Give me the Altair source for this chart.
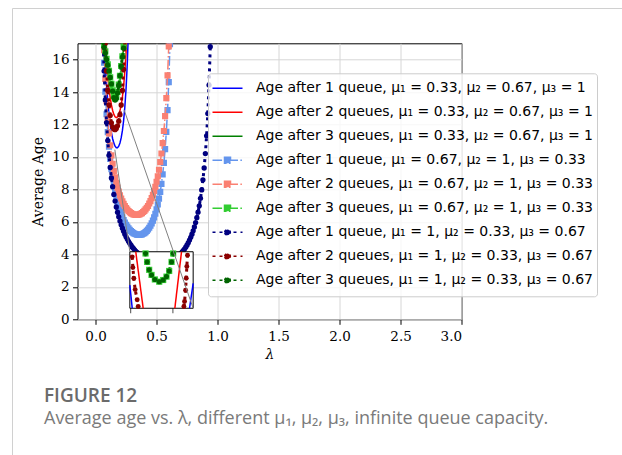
import altair as alt
import pandas as pd

# ---------------- data ----------------
LAMBDA = [0.05, 0.06, 0.07, 0.08, 0.09, 0.10, 0.11, 0.12, 0.13, 0.14, 0.15,
          0.16, 0.17, 0.18, 0.19, 0.20, 0.21, 0.22, 0.23, 0.24, 0.25,
          0.26, 0.27, 0.28, 0.29, 0.30, 0.31, 0.32, 0.33, 0.34, 0.35,
          0.36, 0.37, 0.38, 0.39, 0.40, 0.41, 0.42, 0.43, 0.44, 0.45,
          0.46, 0.47, 0.48, 0.49, 0.50, 0.51, 0.52, 0.53, 0.54, 0.55,
          0.56, 0.57, 0.58, 0.59, 0.60, 0.61, 0.62, 0.63, 0.64, 0.65,
          0.66, 0.67, 0.68, 0.69, 0.70, 0.71, 0.72, 0.73, 0.74, 0.75,
          0.76, 0.77, 0.78, 0.79, 0.80, 0.81, 0.82, 0.83, 0.84, 0.85,
          0.86, 0.87, 0.88, 0.89, 0.90, 0.91, 0.92, 0.93, 0.94, 0.95]

SERIES = [
    "Age after 1 queue, μ₁ = 0.33, μ₂ = 0.67, μ₃ = 1",
    "Age after 2 queues, μ₁ = 0.33, μ₂ = 0.67, μ₃ = 1",
    "Age after 3 queues, μ₁ = 0.33, μ₂ = 0.67, μ₃ = 1",
    "Age after 1 queue, μ₁ = 0.67, μ₂ = 1, μ₃ = 0.33",
    "Age after 2 queues, μ₁ = 0.67, μ₂ = 1, μ₃ = 0.33",
    "Age after 3 queues, μ₁ = 0.67, μ₂ = 1, μ₃ = 0.33",
    "Age after 1 queue, μ₁ = 1, μ₂ = 0.33, μ₃ = 0.67",
    "Age after 2 queues, μ₁ = 1, μ₂ = 0.33, μ₃ = 0.67",
    "Age after 3 queues, μ₁ = 1, μ₂ = 0.33, μ₃ = 0.67",
]
COLORS = ["#0000ff", "#ff0000", "#008000",
          "#6495ed", "#fa8072", "#32cd32",
          "#000080", "#8b0000", "#006400"]

# first lambda of each series
STARTS = [0.06, 0.07, 0.07, 0.06, 0.06, 0.06, 0.06, 0.07, 0.06]

AGE_A1 = [19.82, 17.49, 15.77, 14.45, 13.43, 12.63, 11.99, 11.50, 11.12, 10.85,
          10.66, 10.57, 10.57, 10.66, 10.86, 11.17, 11.62, 12.24, 13.08, 14.21,
          15.75, 17.89]
AGE_A2 = [19.01, 17.32, 16.02, 15.03, 14.27, 13.66, 13.20, 12.86, 12.62, 12.47,
          12.42, 12.46, 12.59, 12.84, 13.19, 13.69, 14.36, 15.26, 16.44, 18.04]
AGE_A3 = [17.3, 16.7, 16.1, 15.55, 15.05, 14.6, 14.2, 13.85, 13.6, 13.5,
          13.55, 13.8, 14.2, 14.75, 15.35, 16.0, 16.7, 17.4]
AGE_B1 = [18.17, 15.80, 14.02, 12.63, 11.53, 10.63, 9.88, 9.25, 8.72, 8.26,
          7.85, 7.50, 7.19, 6.92, 6.68, 6.47, 6.28, 6.11, 5.96, 5.82,
          5.71, 5.60, 5.51, 5.43, 5.37, 5.31, 5.27, 5.24, 5.21, 5.20,
          5.20, 5.21, 5.23, 5.27, 5.31, 5.37, 5.45, 5.53, 5.64, 5.76,
          5.91, 6.08, 6.28, 6.50, 6.77, 7.07, 7.43, 7.85, 8.34, 8.93,
          9.63, 10.48, 11.54, 12.88, 14.61, 16.94, 20.24]
AGE_B2 = [18.93, 16.58, 14.81, 13.43, 12.34, 11.45, 10.72, 10.10, 9.58, 9.14,
          8.74, 8.41, 8.11, 7.86, 7.63, 7.44, 7.26, 7.11, 6.98, 6.85,
          6.76, 6.67, 6.60, 6.54, 6.50, 6.46, 6.44, 6.43, 6.43, 6.44,
          6.46, 6.50, 6.54, 6.61, 6.68, 6.77, 6.87, 6.98, 7.13, 7.28,
          7.46, 7.67, 7.90, 8.16, 8.47, 8.81, 9.21, 9.68, 10.21, 10.85,
          11.60, 12.51, 13.62, 15.02, 16.81, 19.20]
AGE_B3 = [17.3, 16.9, 16.5, 16.05, 15.7, 15.3, 14.9, 14.5, 14.1, 13.75,
          13.6, 13.7, 14.0, 14.45, 15.0, 15.6, 16.2, 16.8, 17.4]
AGE_C1 = [17.67, 15.29, 13.51, 12.12, 11.01, 10.10, 9.35, 8.71, 8.17, 7.69,
          7.28, 6.92, 6.60, 6.31, 6.05, 5.82, 5.61, 5.42, 5.24, 5.08,
          4.94, 4.80, 4.68, 4.57, 4.46, 4.37, 4.28, 4.19, 4.12, 4.05,
          3.98, 3.92, 3.86, 3.81, 3.77, 3.72, 3.69, 3.65, 3.62, 3.59,
          3.57, 3.54, 3.53, 3.51, 3.50, 3.49, 3.49, 3.48, 3.49, 3.49,
          3.50, 3.51, 3.53, 3.54, 3.57, 3.59, 3.62, 3.66, 3.70, 3.75,
          3.80, 3.85, 3.92, 3.98, 4.06, 4.15, 4.24, 4.34, 4.46, 4.58,
          4.72, 4.88, 5.05, 5.24, 5.45, 5.69, 5.96, 6.26, 6.60, 6.99,
          7.45, 7.97, 8.59, 9.32, 10.21, 11.30, 12.67, 14.43, 16.79, 20.10]
AGE_C2 = [19.2, 17.0, 15.3, 14.1, 13.2, 12.55, 12.1, 11.85, 11.72, 11.68,
          11.75, 11.92, 12.2, 12.6, 13.2, 14.1, 15.4, 17.3]
AGE_C3 = [17.1, 16.75, 16.4, 16.0, 15.65, 15.3, 14.9, 14.5, 14.05, 13.65,
          13.5, 13.6, 13.95, 14.4, 15.0, 15.6, 16.15, 16.7, 17.2]
AGES = [AGE_A1, AGE_A2, AGE_A3, AGE_B1, AGE_B2, AGE_B3, AGE_C1, AGE_C2, AGE_C3]

# inset (zoomed view) traces, in the inset's own units
INSET_BLUE_L_X = [0.1490, 0.1518]
INSET_BLUE_L_Y = [13.41, 13.00]
INSET_BLUE_R_X = [0.2197, 0.2240]
INSET_BLUE_R_Y = [13.00, 13.44]
INSET_RED_L_X = [0.1560, 0.1648]
INSET_RED_L_Y = [14.00, 13.00]
INSET_RED_R_X = [0.2023, 0.2102]
INSET_RED_R_Y = [13.00, 14.00]
INSET_DRED_L_X = [0.1518, 0.1526, 0.1537, 0.1553, 0.1577, 0.1589]
INSET_DRED_L_Y = [13.91, 13.72, 13.53, 13.33, 13.15, 13.03]
INSET_DRED_R_X = [0.2130, 0.2138, 0.2150, 0.2158, 0.2165, 0.2173]
INSET_DRED_R_Y = [13.03, 13.12, 13.32, 13.53, 13.74, 13.94]
INSET_GREEN_X = [0.1676, 0.1695, 0.1719, 0.1747, 0.1786, 0.1838, 0.1885,
                 0.1924, 0.1956, 0.1984, 0.2003]
INSET_GREEN_Y = [13.97, 13.82, 13.68, 13.59, 13.51, 13.47, 13.50,
                 13.56, 13.66, 13.82, 13.97]
INSET_TICKS = [0.15, 0.20]

CAPTION_TITLE = "FIGURE 12"
CAPTION_TEXT = "Average age vs. λ, different μ₁, μ₂, μ₃, infinite queue capacity."

# ---------------- layout / style constants ----------------
XMIN, XMAX = -0.148, 3.0
YMIN, YMAX = 0.0, 17.0
IXA, IXB, IYA, IYB = 0.149, 0.224, 13.0, 14.0       # inset window (local units)
IX0, IX1, IY0, IY1 = 0.281, 0.800, 0.68, 4.16       # inset placement (main units)
ZOOM_BL = (0.158, 10.45)
ZOOM_TR = (0.2344, 12.89)

KIND = ["solid"] * 3 + ["dashdot"] * 3 + ["dotted"] * 3
DASH_DOTDASH = [9.6, 2.4, 1.5, 2.4]
DASH_DOT = [3, 4]
LINE_PATH = "M-1,0L1,0"
SQUARE_PATH = "M-1,0L1,0M-0.2,-0.2L0.2,-0.2L0.2,0.2L-0.2,0.2Z"
CIRCLE_PATH = "M-1,0L1,0M-0.19,0A0.19,0.19,0,1,1,0.19,0A0.19,0.19,0,1,1,-0.19,0Z"
SHAPES = [LINE_PATH] * 3 + [SQUARE_PATH] * 3 + [CIRCLE_PATH] * 3
DASHES = [[1, 0]] * 3 + [DASH_DOTDASH] * 3 + [DASH_DOT] * 3
WIDTHS = [1.5] * 6 + [3] * 3

# ---------------- build tables ----------------
rows = []
for name, start, vals in zip(SERIES, STARTS, AGES):
    i0 = LAMBDA.index(start)
    for lam, age in zip(LAMBDA[i0:i0 + len(vals)], vals):
        rows.append({"series": name, "lam": lam, "age": age})
df = pd.DataFrame(rows)

inset_rows = []
def add_inset(seg, xs, ys):
    for x, y in zip(xs, ys):
        inset_rows.append({"seg": seg, "x": x, "y": y})
add_inset("blue_l", INSET_BLUE_L_X, INSET_BLUE_L_Y)
add_inset("blue_r", INSET_BLUE_R_X, INSET_BLUE_R_Y)
add_inset("red_l", INSET_RED_L_X, INSET_RED_L_Y)
add_inset("red_r", INSET_RED_R_X, INSET_RED_R_Y)
add_inset("dred_l", INSET_DRED_L_X, INSET_DRED_L_Y)
add_inset("dred_r", INSET_DRED_R_X, INSET_DRED_R_Y)
add_inset("green", INSET_GREEN_X, INSET_GREEN_Y)
df_inset = pd.DataFrame(inset_rows)

kx = (IX1 - IX0) / (IXB - IXA)
ky = (IY1 - IY0) / (IYB - IYA)
LAM_EXPR = f"{IX0} + (datum.x - {IXA}) * {kx}"
AGE_EXPR = f"{IY0} + (datum.y - {IYA}) * {ky}"

# ---------------- encodings ----------------
x_axis = alt.Axis(values=[0, 0.5, 1.0, 1.5, 2.0, 2.5, 3.0], format=".1f",
                  title="λ", titleFontStyle="italic", labelPadding=5.5,
                  titlePadding=4)
y_axis = alt.Axis(values=[0, 2, 4, 6, 8, 10, 12, 14, 16], format="d",
                  title="Average Age", labelPadding=3.5, titlePadding=6)
X = alt.X("lam:Q", scale=alt.Scale(domain=[XMIN, XMAX], nice=False, zero=False),
          axis=x_axis)
Y = alt.Y("age:Q", scale=alt.Scale(domain=[YMIN, YMAX], nice=False, zero=False),
          axis=y_axis)

LEGEND = alt.Legend(
    title=None, orient="none", legendX=130.5, legendY=30,
    padding=3.5, strokeColor="#cccccc", fillColor="rgba(255,255,255,0.8)",
    cornerRadius=3, symbolSize=900, clipHeight=23.1, rowPadding=0,
    labelOffset=12.5, labelFont="DejaVu Sans", labelFontSize=14,
    labelColor="black", labelLimit=600, symbolOpacity=1,
)
STROKE = alt.Stroke("series:N", scale=alt.Scale(domain=SERIES, range=COLORS), legend=LEGEND)
FILL = alt.Fill("series:N", scale=alt.Scale(domain=SERIES, range=COLORS), legend=LEGEND)
SHAPE = alt.Shape("series:N", scale=alt.Scale(domain=SERIES, range=SHAPES), legend=LEGEND)
DASH = alt.StrokeDash("series:N", scale=alt.Scale(domain=SERIES, range=DASHES), legend=LEGEND)
SW = alt.StrokeWidth("series:N", scale=alt.Scale(domain=SERIES, range=WIDTHS), legend=LEGEND)

layers = []

# page frame
frame = alt.Chart(pd.DataFrame({"k": [0]})).mark_rect(
    fill="white", fillOpacity=0, stroke="#d0d0d0", strokeWidth=1
).encode(x=alt.value(-65), x2=alt.value(700), y=alt.value(-34.8), y2=alt.value(600))
layers.append(frame)

# legend carrier (no marks of its own, only the scales' domain)
layers.append(alt.Chart(df).transform_filter("false").mark_point(opacity=1)
              .encode(x=X, y=Y, stroke=STROKE, fill=FILL, shape=SHAPE,
                      strokeDash=DASH, strokeWidth=SW))

# main series
for name, kind in zip(SERIES, KIND):
    base = alt.Chart(df).transform_filter(alt.datum.series == name)
    if kind == "solid":
        layers.append(base.mark_line(clip=True, strokeWidth=1.5)
                      .encode(x=X, y=Y, stroke=STROKE))
    elif kind == "dashdot":
        layers.append(base.mark_line(clip=True, strokeWidth=1.5,
                                     strokeDash=DASH_DOTDASH)
                      .encode(x=X, y=Y, stroke=STROKE))
        layers.append(base.mark_point(clip=True, filled=True, shape="square",
                                      size=38, opacity=1, strokeWidth=0)
                      .encode(x=X, y=Y, fill=FILL))
    else:
        layers.append(base.mark_line(clip=True, strokeWidth=3, strokeDash=DASH_DOT)
                      .encode(x=X, y=Y, stroke=STROKE))
        layers.append(base.mark_point(clip=True, filled=True, shape="circle",
                                      size=28, opacity=1, strokeWidth=0)
                      .encode(x=X, y=Y, fill=FILL))

# inset background / frame
inset_box = pd.DataFrame({"lam": [IX0], "lam2": [IX1], "age": [IY0], "age2": [IY1]})
layers.append(alt.Chart(inset_box).mark_rect(fill="white", stroke="black",
                                             strokeWidth=1)
              .encode(x=X, x2="lam2:Q", y=Y, y2="age2:Q"))

ins = alt.Chart(df_inset).transform_calculate(lam=LAM_EXPR, age=AGE_EXPR)

def inset_seg(segs):
    return ins.transform_filter(alt.FieldOneOfPredicate(field="seg", oneOf=segs))

layers.append(inset_seg(["blue_l", "blue_r"]).mark_line(strokeWidth=1.5, color="#0000ff")
              .encode(x=X, y=Y, detail="seg:N"))
layers.append(inset_seg(["red_l", "red_r"]).mark_line(strokeWidth=1.5, color="#ff0000")
              .encode(x=X, y=Y, detail="seg:N"))
layers.append(inset_seg(["dred_l", "dred_r"]).mark_line(strokeWidth=3, strokeDash=DASH_DOT,
                                                        color="#8b0000")
              .encode(x=X, y=Y, detail="seg:N"))
layers.append(inset_seg(["dred_l", "dred_r"]).mark_point(filled=True, shape="circle",
                                                         size=24, opacity=1,
                                                         color="#8b0000")
              .encode(x=X, y=Y))
layers.append(inset_seg(["green"]).mark_line(strokeWidth=3, strokeDash=DASH_DOT,
                                             color="#006400")
              .encode(x=X, y=Y))
layers.append(inset_seg(["green"]).mark_point(filled=True, shape="square", size=38,
                                              opacity=1, color="#32cd32")
              .encode(x=X, y=Y))
layers.append(inset_seg(["green"]).mark_point(filled=True, shape="circle", size=26,
                                              opacity=1, color="#006400")
              .encode(x=X, y=Y))

# inset ticks on its bottom edge
ticks_df = pd.DataFrame({"x": INSET_TICKS, "y": [IYA] * len(INSET_TICKS)})
layers.append(alt.Chart(ticks_df).transform_calculate(lam=LAM_EXPR, age=AGE_EXPR)
              .mark_tick(orient="vertical", thickness=1, size=5, yOffset=2.5,
                         color="black")
              .encode(x=X, y=Y))

# connector lines
conn = pd.DataFrame({
    "lam": [ZOOM_BL[0], ZOOM_TR[0]], "age": [ZOOM_BL[1], ZOOM_TR[1]],
    "lam2": [IX0, IX1], "age2": [IY1, IY0],
})
layers.append(alt.Chart(conn).mark_rule(color="#808080", strokeWidth=1)
              .encode(x=X, y=Y, x2="lam2:Q", y2="age2:Q"))

# caption
cap1 = pd.DataFrame({"txt": [CAPTION_TITLE]})
cap2 = pd.DataFrame({"txt": [CAPTION_TEXT]})
layers.append(alt.Chart(cap1).mark_text(align="left", baseline="alphabetic",
                                        font="Open Sans", fontWeight=600,
                                        fontSize=19, color="#6b6b6b")
              .encode(text="txt:N", x=alt.value(-33.5), y=alt.value(358.4)))
layers.append(alt.Chart(cap2).mark_text(align="left", baseline="alphabetic",
                                        font="Open Sans", fontSize=18,
                                        color="#7a7a7a")
              .encode(text="txt:N", x=alt.value(-33.5), y=alt.value(381)))

W, H = 384.1, 276.0
PAD_L, PAD_T = 77.5, 43.3
chart = alt.layer(*layers).properties(
    width=W, height=H,
    autosize=alt.AutoSizeParams(type="none"),
    padding={"left": PAD_L, "top": PAD_T, "right": 622 - PAD_L - W,
             "bottom": 455 - PAD_T - H},
    background="white",
).configure_view(
    stroke="black", strokeWidth=1
).configure_axis(
    labelFont="DejaVu Serif", labelFontSize=13.5, labelColor="black",
    titleFont="DejaVu Serif", titleFontSize=14, titleColor="black",
    titleFontWeight="normal", tickColor="black", tickSize=5, tickWidth=1,
    gridColor="#d6d6d6", gridWidth=1, domain=False,
)

chart.save("out.html", embed_options={"renderer": "svg", "actions": False})
